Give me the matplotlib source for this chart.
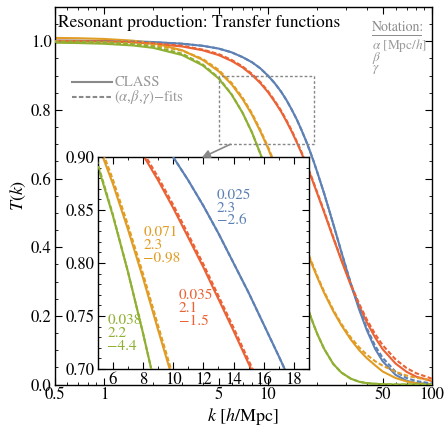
import numpy as np
import matplotlib
matplotlib.use("Agg")
import matplotlib.pyplot as plt
from matplotlib.ticker import FixedLocator, MultipleLocator, LogLocator, NullFormatter

# wavenumbers k [h/Mpc] at which the curves were read
k = [0.5, 0.7, 1, 1.5, 2, 3, 4, 5, 6, 7, 8, 9, 10, 11, 12, 13, 14, 15, 16, 17,
     18, 19, 20, 22, 25, 28, 32, 36, 40, 45, 50, 60, 70, 80, 100]

# (alpha, beta, gamma) fits (dashed)
blue_fit = [1.000, 1.000, 0.999, 0.999, 0.997, 0.993, 0.987, 0.979, 0.968, 0.954, 0.939, 0.921,
            0.900, 0.878, 0.854, 0.828, 0.800, 0.772, 0.742, 0.712, 0.681, 0.650, 0.618, 0.557,
            0.468, 0.387, 0.295, 0.222, 0.165, 0.113, 0.078, 0.037, 0.019, 0.010, 0.003]
red_fit = [1.000, 0.999, 0.999, 0.997, 0.994, 0.987, 0.976, 0.963, 0.946, 0.927, 0.905, 0.881,
           0.855, 0.827, 0.799, 0.769, 0.739, 0.708, 0.678, 0.647, 0.618, 0.588, 0.559, 0.505,
           0.430, 0.365, 0.293, 0.235, 0.190, 0.147, 0.115, 0.073, 0.048, 0.033, 0.017]
orange_fit = [1.000, 0.999, 0.998, 0.994, 0.989, 0.973, 0.949, 0.917, 0.879, 0.836, 0.790, 0.741,
              0.693, 0.644, 0.597, 0.553, 0.510, 0.471, 0.435, 0.401, 0.370, 0.342, 0.316, 0.271,
              0.218, 0.177, 0.137, 0.108, 0.087, 0.068, 0.055, 0.037, 0.026, 0.020, 0.012]
green_fit = [0.999, 0.998, 0.997, 0.992, 0.985, 0.964, 0.933, 0.894, 0.846, 0.792, 0.734, 0.672,
             0.610, 0.547, 0.487, 0.429, 0.375, 0.326, 0.281, 0.241, 0.205, 0.174, 0.147, 0.104,
             0.060, 0.035, 0.017, 0.008, 0.004, 0.002, 0.001, 0.000, 0.000, 0.000, 0.000]

# CLASS transfer functions (solid)
blue_class = [1.002, 1.002, 1.001, 1.000, 0.998, 0.993, 0.987, 0.979, 0.968, 0.954, 0.939, 0.921,
              0.900, 0.878, 0.854, 0.828, 0.800, 0.772, 0.742, 0.712, 0.681, 0.650, 0.618, 0.557,
              0.468, 0.387, 0.293, 0.218, 0.159, 0.104, 0.068, 0.028, 0.011, 0.004, 0.001]
red_class = [1.002, 1.001, 1.000, 0.997, 0.993, 0.985, 0.974, 0.960, 0.943, 0.924, 0.902, 0.878,
             0.852, 0.824, 0.796, 0.766, 0.736, 0.705, 0.675, 0.644, 0.615, 0.585, 0.556, 0.502,
             0.427, 0.362, 0.289, 0.229, 0.182, 0.137, 0.103, 0.061, 0.037, 0.023, 0.010]
orange_class = [1.010, 1.009, 1.007, 1.002, 0.995, 0.974, 0.946, 0.913, 0.875, 0.832, 0.786, 0.737,
                0.689, 0.640, 0.593, 0.549, 0.506, 0.467, 0.431, 0.397, 0.366, 0.338, 0.312, 0.267,
                0.214, 0.173, 0.131, 0.100, 0.077, 0.056, 0.038, 0.019, 0.009, 0.004, 0.001]
green_class = [0.996, 0.995, 0.993, 0.988, 0.981, 0.960, 0.930, 0.892, 0.845, 0.792, 0.734, 0.672,
               0.610, 0.547, 0.487, 0.429, 0.375, 0.326, 0.281, 0.241, 0.205, 0.174, 0.147, 0.104,
               0.060, 0.035, 0.017, 0.008, 0.004, 0.002, 0.001, 0.000, 0.000, 0.000, 0.000]

# fit parameters shown next to the curves
labels = {
    "blue": ["0.025", "2.3", "\u22122.6"],
    "red": ["0.035", "2.1", "\u22121.5"],
    "orange": ["0.071", "2.3", "\u22120.98"],
    "green": ["0.038", "2.2", "\u22124.4"],
}

colors = {"blue": "#5E81B5", "red": "#EB6235", "orange": "#E19C24", "green": "#8FB032"}
series = [
    ("blue", blue_class, blue_fit),
    ("red", red_class, red_fit),
    ("orange", orange_class, orange_fit),
    ("green", green_class, green_fit),
]

plt.rcParams["font.family"] = ["STIXGeneral", "DejaVu Serif"]
plt.rcParams["mathtext.fontset"] = "stix"
plt.rcParams["axes.linewidth"] = 1.0

fig = plt.figure(figsize=(4.46, 4.28), dpi=100)
ax = fig.add_axes([0.1222, 0.1016, 0.8464, 0.882])

LW = 1.5
DASH = (2.2, 1.1)
GRAY = "#9a9a9a"

for name, cls, fit in series:
    ax.plot(k, cls, color=colors[name], lw=LW, zorder=2)
for name, cls, fit in series:
    ax.plot(k, fit, color=colors[name], lw=LW, dashes=DASH, zorder=3)

ax.set_xscale("log")
ax.set_xlim(0.5, 100)
ax.set_ylim(0, 1.1)
ax.xaxis.set_major_locator(FixedLocator([0.5, 1, 5, 10, 50, 100]))
ax.set_xticklabels(["0.5", "1", "5", "10", "50", "100"])
ax.xaxis.set_minor_locator(LogLocator(base=10, subs=np.arange(2, 10)))
ax.xaxis.set_minor_formatter(NullFormatter())
ax.yaxis.set_minor_locator(MultipleLocator(0.05))
ax.set_yticks([0.0, 0.2, 0.4, 0.6, 0.8, 1.0])
ax.set_yticklabels(["0.0", "0.2", "0.4", "0.6", "0.8", "1.0"])
ax.tick_params(which="both", direction="in", top=True, right=True, labelsize=12, pad=2)
ax.tick_params(which="major", length=5)
ax.tick_params(which="minor", length=2.5)

ax.set_xlabel("$k$ [$h$/Mpc]", fontsize=13, labelpad=2)
ax.set_ylabel("$T(k)$", fontsize=13, labelpad=2)

ax.text(0.008, 0.957, "Resonant production: Transfer functions", transform=ax.transAxes,
        fontsize=12.5, ha="left", va="center")

# notation
ax.text(0.840, 0.946, "Notation:", transform=ax.transAxes, fontsize=10, color="#8a8a8a",
        ha="left", va="center")
ax.plot([0.840, 0.972], [0.927, 0.927], transform=ax.transAxes, color="#8a8a8a", lw=0.7,
        clip_on=False)
notation = [r"$\alpha$ [Mpc/$h$]", r"$\beta$", r"$\gamma$"]
for txt, ny in zip(notation, [0.899, 0.865, 0.834]):
    ax.text(0.840, ny, txt, transform=ax.transAxes, fontsize=9.5, color=GRAY,
            ha="left", va="center")

# legend
ax.plot([0.0455, 0.1515], [0.8005, 0.8005], transform=ax.transAxes, color="#8a8a8a", lw=LW)
ax.plot([0.0455, 0.1515], [0.7624, 0.7624], transform=ax.transAxes, color="#8a8a8a", lw=LW,
        dashes=DASH)
ax.text(0.1584, 0.8005, "CLASS", transform=ax.transAxes, fontsize=10.5, color=GRAY,
        ha="left", va="center")
ax.text(0.1584, 0.7624, "$(\\alpha,\\!\\beta,\\!\\gamma)$\u2212fits", transform=ax.transAxes,
        fontsize=10.5, color=GRAY, ha="left", va="center")

# zoom box
x0, x1, y0, y1 = 5, 19, 0.70, 0.90
ax.plot([x0, x1, x1, x0, x0], [y0, y0, y1, y1, y0], color="#888888", lw=1.0,
        dashes=(2, 1.5), zorder=4)

# inset
axi = fig.add_axes([0.219, 0.1379, 0.4738, 0.4953])
for name, cls, fit in series:
    axi.plot(k, cls, color=colors[name], lw=LW, zorder=2)
for name, cls, fit in series:
    axi.plot(k, fit, color=colors[name], lw=LW, dashes=DASH, zorder=3)
axi.set_xlim(x0, x1)
axi.set_ylim(y0, y1)
axi.set_xticks([6, 8, 10, 12, 14, 16, 18])
axi.xaxis.set_minor_locator(MultipleLocator(1))
axi.set_yticks([0.70, 0.75, 0.80, 0.85, 0.90])
axi.set_yticklabels(["0.70", "0.75", "0.80", "0.85", "0.90"])
axi.yaxis.set_minor_locator(MultipleLocator(0.01))
axi.tick_params(which="both", direction="in", top=True, right=True, labelsize=12, pad=2)
axi.tick_params(which="major", length=5)
axi.tick_params(which="minor", length=2.5)

label_pos = {"blue": (12.9, 0.852), "orange": (8.02, 0.817),
             "red": (10.39, 0.757), "green": (5.64, 0.734)}
for name, (lx, ly) in label_pos.items():
    axi.text(lx, ly, "\n".join(labels[name]), color=colors[name], fontsize=11,
             ha="left", va="center", linespacing=0.95)

# arrow from the zoom box to the inset
axi.annotate("", xy=(3.95, 0.661), xycoords=ax.transData,
             xytext=(5.9, 0.70), textcoords=ax.transData,
             arrowprops=dict(arrowstyle="-|>", color="#888888", lw=1.2,
                             mutation_scale=12, shrinkA=0, shrinkB=0),
             annotation_clip=False)

fig.savefig("out.png", dpi=100)
